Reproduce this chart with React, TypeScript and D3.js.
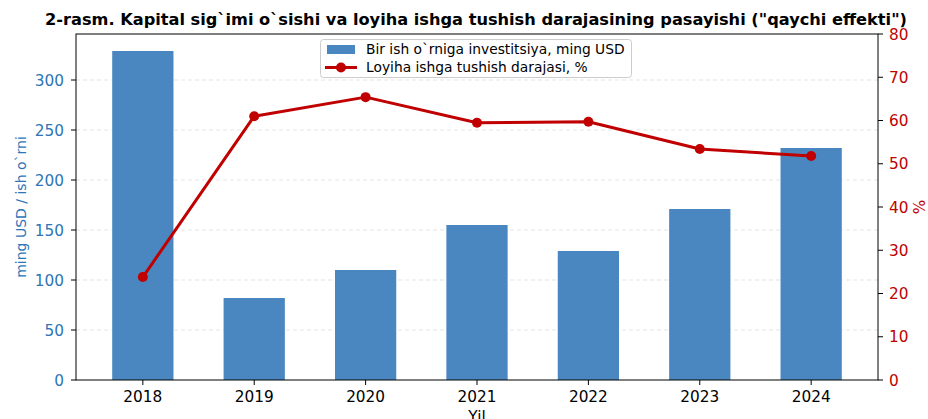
import React from "react";
import * as d3 from "d3";

const years = ["2018", "2019", "2020", "2021", "2022", "2023", "2024"];
const investment = [329, 82, 110, 155, 129, 171, 232];
const launchRate = [23.8, 61.0, 65.4, 59.5, 59.7, 53.4, 51.8];
const leftTicks = [0, 50, 100, 150, 200, 250, 300];
const rightTicks = [0, 10, 20, 30, 40, 50, 60, 70, 80];

const title = '2-rasm. Kapital sig`imi o`sishi va loyiha ishga tushish darajasining pasayishi ("qaychi effekti")';
const leftLabel = "ming USD / ish o`rni";
const rightLabel = "%";
const xLabel = "Yil";
const legendBar = "Bir ish o`rniga investitsiya, ming USD";
const legendLine = "Loyiha ishga tushish darajasi, %";

export default function App() {
  const W = 928, H = 419;
  const L = 76, R = 878, T = 34, B = 380;
  const font = "DejaVu Sans, sans-serif";
  const barColor = "#4a87c1";
  const lineColor = "#c00000";
  const leftColor = "#2e75b6";
  const fs = 15.3;

  const x = d3.scaleLinear().domain([-0.6, 6.6]).range([L, R]);
  const yL = d3.scaleLinear().domain([0, 346]).range([B, T]);
  const yR = d3.scaleLinear().domain([0, 80]).range([B, T]);
  const bw = x(0.55) - x(0);

  const line = d3
    .line<number>()
    .x((_, i) => x(i))
    .y((d) => yR(d));

  return (
    <svg width={W} height={H} style={{ position: "absolute", left: 0, top: 0, background: "#fff" }}>
      <rect x={0} y={0} width={W} height={H} fill="#fff" />
      {/* grid */}
      {leftTicks.filter((t) => t > 0).map((t) => (
        <line key={"g" + t} x1={L} x2={R} y1={yL(t)} y2={yL(t)} stroke="#d9d9d9" strokeDasharray="4,3" strokeWidth={0.8} opacity={0.8} />
      ))}
      {/* bars */}
      {investment.map((v, i) => (
        <rect key={"b" + i} x={x(i) - bw / 2} y={yL(v)} width={bw} height={B - yL(v)} fill={barColor} />
      ))}
      {/* line */}
      <path d={line(launchRate) || ""} fill="none" stroke={lineColor} strokeWidth={3} strokeLinejoin="round" />
      {launchRate.map((v, i) => (
        <circle key={"c" + i} cx={x(i)} cy={yR(v)} r={5} fill={lineColor} />
      ))}
      {/* frame */}
      <rect x={L} y={T} width={R - L} height={B - T} fill="none" stroke="#000" strokeWidth={1} />
      {/* left ticks */}
      {leftTicks.map((t) => (
        <g key={"l" + t}>
          <line x1={L - 5} x2={L} y1={yL(t)} y2={yL(t)} stroke="#000" />
          <text x={L - 12} y={yL(t)} dy="0.36em" textAnchor="end" fontFamily={font} fontSize={fs} fill={leftColor}>{t}</text>
        </g>
      ))}
      {/* right ticks */}
      {rightTicks.map((t) => (
        <g key={"r" + t}>
          <line x1={R} x2={R + 5} y1={yR(t)} y2={yR(t)} stroke="#000" />
          <text x={R + 11} y={yR(t)} dy="0.36em" textAnchor="start" fontFamily={font} fontSize={fs} fill={lineColor}>{t}</text>
        </g>
      ))}
      {/* x ticks */}
      {years.map((yr, i) => (
        <g key={"x" + yr}>
          <line x1={x(i)} x2={x(i)} y1={B} y2={B + 5} stroke="#000" />
          <text x={x(i)} y={B + 22} textAnchor="middle" fontFamily={font} fontSize={fs} fill="#000">{yr}</text>
        </g>
      ))}
      {/* axis labels */}
      <text x={(L + R) / 2} y={B + 42} textAnchor="middle" fontFamily={font} fontSize={fs} fill="#000">{xLabel}</text>
      <text transform={`translate(26,${(T + B) / 2}) rotate(-90)`} textAnchor="middle" fontFamily={font} fontSize={14} fill={leftColor}>{leftLabel}</text>
      <text transform={`translate(925,${(T + B) / 2}) rotate(-90)`} textAnchor="middle" fontFamily={font} fontSize={fs} fill={lineColor}>{rightLabel}</text>
      {/* title */}
      <text x={476} y={25} textAnchor="middle" fontFamily={font} fontSize={16.2} fontWeight="bold" fill="#000">{title}</text>
      {/* legend */}
      <g>
        <rect x={320.5} y={39.5} width={311} height={38} rx={3} fill="#fff" fillOpacity={0.8} stroke="#ccc" />
        <rect x={327} y={45} width={28} height={9} fill={barColor} />
        <text x={366} y={49.5} dy="0.36em" fontFamily={font} fontSize={13.8} fill="#000">{legendBar}</text>
        <line x1={325} x2={357} y1={67.5} y2={67.5} stroke={lineColor} strokeWidth={3} />
        <circle cx={341} cy={67.5} r={5} fill={lineColor} />
        <text x={366} y={67.5} dy="0.36em" fontFamily={font} fontSize={13.8} fill="#000">{legendLine}</text>
      </g>
    </svg>
  );
}
